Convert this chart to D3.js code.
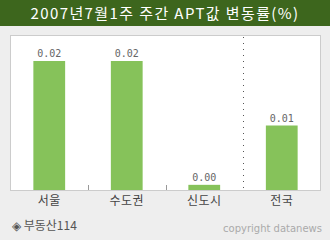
<!DOCTYPE html>
<html>
<head>
<meta charset="utf-8">
<script src="https://cdn.jsdelivr.net/npm/d3@7"></script>
<style>
  body { margin: 0; background: #eeeeee; }
  svg { display: block; }
</style>
</head>
<body>
<div id="chart"></div>
<script>
// data
var titleText = "2007년7월1주 주간 APT값 변동률(%)";
var regions = ["서울", "수도권", "신도시", "전국"];
var changes = [0.02, 0.02, 0.0008, 0.01];
var sourceText = "◈ 부동산114";
var creditText = "copyright datanews";

var W = 330, H = 240;
var fontKo = "'Noto Sans CJK KR', 'Noto Sans', sans-serif";

var svg = d3.select("#chart")
  .append("svg")
    .attr("width", W)
    .attr("height", H);

svg.append("rect")
  .attr("width", W).attr("height", H)
  .attr("fill", "#eeeeee");

// title bar
svg.append("rect")
  .attr("x", 0).attr("y", 0)
  .attr("width", W).attr("height", 26)
  .attr("fill", "#3d661d");

svg.append("text")
  .attr("x", W / 2)
  .attr("y", 19)
  .attr("text-anchor", "middle")
  .attr("fill", "#ffffff")
  .style("font-family", fontKo)
  .style("font-size", "15px")
  .style("letter-spacing", "1.4px")
  .text(titleText);

// plot box
var box = {left: 10.5, top: 35.5, right: 320.5, bottom: 190.5};

svg.append("rect")
  .attr("x", box.left).attr("y", box.top)
  .attr("width", box.right - box.left)
  .attr("height", box.bottom - box.top)
  .attr("fill", "#ffffff")
  .attr("stroke", "#cccccc")
  .attr("stroke-width", 1);

var x = d3.scaleBand()
  .domain(regions)
  .range([box.left, box.right])
  .paddingInner(0.59)
  .paddingOuter(0.295);

var y = d3.scaleLinear()
  .domain([0, 0.02])
  .range([190, 61]);

// separators
var bounds = regions.slice(1).map(function(r) { return x(r) - x.step() * x.paddingInner() / 2; });

svg.append("g")
  .selectAll("line")
  .data(bounds.slice(0, 2))
  .enter()
  .append("line")
    .attr("x1", function(d) { return Math.round(d) + 0.5; })
    .attr("x2", function(d) { return Math.round(d) + 0.5; })
    .attr("y1", 185)
    .attr("y2", 190)
    .attr("stroke", "#999999");

svg.append("line")
  .attr("x1", Math.round(bounds[2]) + 0.5)
  .attr("x2", Math.round(bounds[2]) + 0.5)
  .attr("y1", 37)
  .attr("y2", 190)
  .attr("stroke", "#555555")
  .attr("stroke-dasharray", "1,5");

// bars
svg.append("g")
  .selectAll("rect")
  .data(regions)
  .enter()
  .append("rect")
    .attr("x", function(d) { return x(d); })
    .attr("y", function(d, i) { return y(changes[i]); })
    .attr("width", x.bandwidth())
    .attr("height", function(d, i) { return 190 - y(changes[i]); })
    .attr("fill", "#86c25a");

// value labels
svg.append("g")
  .selectAll("text")
  .data(regions)
  .enter()
  .append("text")
    .attr("x", function(d) { return x(d) + x.bandwidth() / 2; })
    .attr("y", function(d, i) { return y(changes[i]) - 4; })
    .attr("text-anchor", "middle")
    .attr("fill", "#666666")
    .style("font-family", "'DejaVu Sans Mono', monospace")
    .style("font-size", "10px")
    .text(function(d, i) { return d3.format(".2f")(changes[i]); });

// category labels
svg.append("g")
  .selectAll("text")
  .data(regions)
  .enter()
  .append("text")
    .attr("x", function(d) { return x(d) + x.bandwidth() / 2; })
    .attr("y", 205)
    .attr("text-anchor", "middle")
    .attr("fill", "#444444")
    .style("font-family", fontKo)
    .style("font-size", "12px")
    .style("letter-spacing", "0.5px")
    .text(function(d) { return d; });

svg.append("text")
  .attr("x", 12)
  .attr("y", 230)
  .attr("fill", "#555555")
  .style("font-family", fontKo)
  .style("font-size", "12px")
  .text(sourceText);

svg.append("text")
  .attr("x", 322)
  .attr("y", 232)
  .attr("text-anchor", "end")
  .attr("fill", "#aaaaaa")
  .style("font-family", "'DejaVu Sans', sans-serif")
  .style("font-size", "10px")
  .text(creditText);
</script>
</body>
</html>
